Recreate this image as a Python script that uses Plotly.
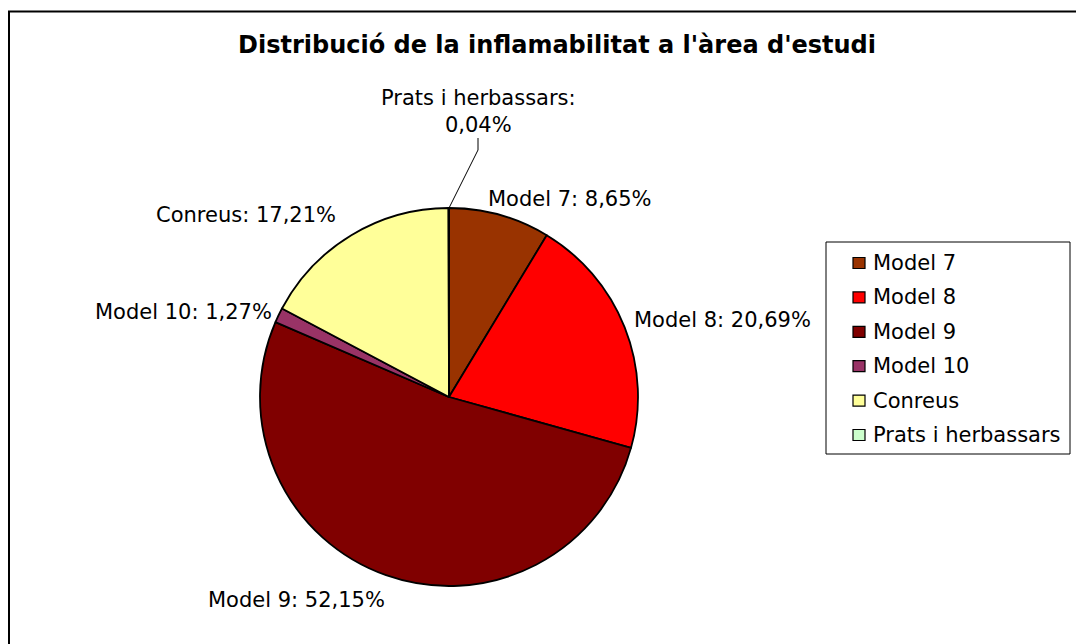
import plotly.graph_objects as go

categories = ["Model 7", "Model 8", "Model 9", "Model 10", "Conreus", "Prats i herbassars"]
values = [8.65, 20.69, 52.15, 1.27, 17.21, 0.04]
colors = ["#993300", "#FF0000", "#800000", "#993366", "#FFFF99", "#CCFFCC"]
title_text = "Distribució de la inflamabilitat a l'àrea d'estudi"

# page has an 8px body margin; figure occupies page pixels 8..1084 / 8..644
OFF = 8
W, H = 1084 - OFF, 644 - OFF
FONT = "Verdana, DejaVu Sans, sans-serif"


def px(x):
    return (x - OFF) / W


def py(y):
    return 1 - (y - OFF) / H


def fmt(v):
    return f"{v:.2f}".replace(".", ",") + "%"


fig = go.Figure(
    go.Pie(
        labels=categories,
        values=values,
        marker=dict(colors=colors, line=dict(color="black", width=1.8)),
        sort=False,
        direction="clockwise",
        rotation=0,
        textinfo="none",
        hoverinfo="label+percent",
        showlegend=False,
        domain=dict(x=[px(260), px(638)], y=[py(586), py(208)]),
    )
)

# label positions (page-pixel centres) for each category
label_pos = {
    "Model 7": (570, 199),
    "Model 8": (722, 320),
    "Model 9": (296, 600),
    "Model 10": (183, 312),
    "Conreus": (246, 215),
    "Prats i herbassars": (478, 112),
}

annotations = []
for cat, val in zip(categories, values):
    x, y = label_pos[cat]
    if cat == "Prats i herbassars":
        txt = f"{cat}:<br>{fmt(val)}"
    else:
        txt = f"{cat}: {fmt(val)}"
    annotations.append(
        dict(
            x=px(x), y=py(y), xref="paper", yref="paper",
            text=txt, showarrow=False, xanchor="center", yanchor="middle",
            font=dict(family=FONT, size=21, color="black"),
        )
    )

annotations.append(
    dict(
        x=px(557), y=py(45), xref="paper", yref="paper",
        text=f"<b>{title_text}</b>", showarrow=False,
        xanchor="center", yanchor="middle",
        font=dict(family=FONT, size=24, color="black"),
    )
)

shapes = [
    dict(
        type="rect", xref="paper", yref="paper",
        x0=px(9), x1=px(1100), y0=py(660), y1=py(11.5),
        line=dict(color="black", width=2), fillcolor="rgba(0,0,0,0)",
    ),
    dict(
        type="path", xref="paper", yref="paper",
        path=f"M {px(449)},{py(208)} L {px(478)},{py(150)} L {px(478)},{py(138)}",
        line=dict(color="black", width=1),
    ),
    # legend box
    dict(
        type="rect", xref="paper", yref="paper",
        x0=px(826), x1=px(1070), y0=py(454), y1=py(242),
        line=dict(color="black", width=1), fillcolor="white",
    ),
]

# legend entries
leg_y0, leg_dy = 263, 34.4
for i, (cat, col) in enumerate(zip(categories, colors)):
    yc = leg_y0 + i * leg_dy
    shapes.append(
        dict(
            type="rect", xref="paper", yref="paper",
            x0=px(853), x1=px(865), y0=py(yc + 5.5), y1=py(yc - 5.5),
            line=dict(color="black", width=1.2), fillcolor=col,
        )
    )
    annotations.append(
        dict(
            x=px(871), y=py(yc), xref="paper", yref="paper",
            text=cat, showarrow=False, xanchor="left", yanchor="middle",
            font=dict(family=FONT, size=21, color="black"),
        )
    )

fig.update_layout(
    width=W, height=H,
    margin=dict(l=0, r=0, t=0, b=0),
    paper_bgcolor="white",
    plot_bgcolor="white",
    showlegend=False,
    annotations=annotations,
    shapes=shapes,
)

fig.write_html("out.html")
